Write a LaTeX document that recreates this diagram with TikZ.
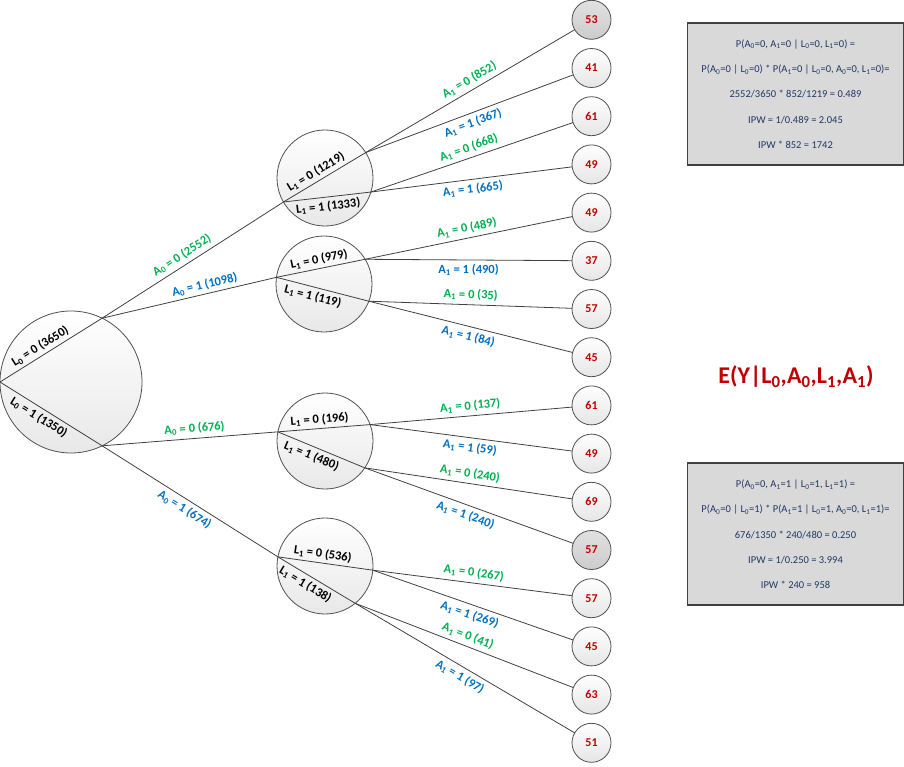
\documentclass[tikz,border=0pt]{standalone}
\usepackage{fontspec}
\setmainfont{Carlito}
\definecolor{lineC}{RGB}{64,64,64}
\definecolor{circC}{RGB}{80,80,80}
\definecolor{labgreen}{RGB}{0,176,80}
\definecolor{labblue}{RGB}{0,112,192}
\definecolor{leafred}{RGB}{192,0,0}
\definecolor{boxfill}{RGB}{217,217,217}
\definecolor{boxtext}{RGB}{32,56,100}
\newcommand{\sbs}[1]{\textsubscript{#1}}
\begin{document}
\begin{tikzpicture}[x=1pt,y=-1pt,
  conn/.style={draw=lineC, line width=0.8pt},
  bignode/.style={circle, draw=circC, line width=0.8pt, top color=white, bottom color=black!9, minimum size=#1, inner sep=0pt, outer sep=0pt},
  leaf/.style={circle, draw=circC, line width=0.8pt, top color=white, bottom color=black!10, minimum size=39pt, inner sep=0pt, outer sep=0pt, font=\bfseries\fontsize{12}{12}\selectfont, text=leafred},
  leafg/.style={leaf, top color=black!12, bottom color=black!20},
  lab/.style={font=\bfseries\fontsize{12.5}{12.5}\selectfont, sloped, inner sep=1.5pt},
  gl/.style={lab, text=labgreen, above=2.5pt},
  bl/.style={lab, text=labblue, below=2.5pt},
  kla/.style={lab, text=black, above=1.5pt},
  klb/.style={lab, text=black, below=2pt},
  infobox/.style={rectangle, draw=lineC, line width=1.5pt, fill=boxfill, minimum width=215.6pt, minimum height=142pt, align=center, text=boxtext, font=\fontsize{10.5}{25.3}\selectfont, inner sep=0pt}
]
\useasboundingbox (0,0) rectangle (904,766);

% main circles
\node[bignode=142pt] (r) at (71,382) {};
\node[bignode=96pt] (c1) at (325,178) {};
\node[bignode=96pt] (c2) at (324,284) {};
\node[bignode=96pt] (c3) at (325,441) {};
\node[bignode=96pt] (c4) at (325,566) {};

\coordinate (r0) at (r.180);
\coordinate (r1) at (r.64);
\coordinate (r2) at (r.-64);
\coordinate (c1v) at (c1.210.8);
\coordinate (c1a) at (c1.32.7);
\coordinate (c1b) at (c1.-17.3);
\coordinate (c2v) at (c2.172.7);
\coordinate (c2a) at (c2.31.6);
\coordinate (c2b) at (c2.-21.4);
\coordinate (c3v) at (c3.169.4);
\coordinate (c3a) at (c3.20.7);
\coordinate (c3b) at (c3.-34);
\coordinate (c4v) at (c4.169.4);
\coordinate (c4a) at (c4.-5);
\coordinate (c4b) at (c4.-51.3);

% leaves
\node[leafg] (l0) at (591.5,19.8) {53};
\node[leaf] (l1) at (591.5,68) {41};
\node[leaf] (l2) at (591.5,116.2) {61};
\node[leaf] (l3) at (591.5,164.4) {49};
\node[leaf] (l4) at (591.5,212.6) {49};
\node[leaf] (l5) at (591.5,260.8) {37};
\node[leaf] (l6) at (591.5,309) {57};
\node[leaf] (l7) at (591.5,357.2) {45};
\node[leaf] (l8) at (591.5,405.4) {61};
\node[leaf] (l9) at (591.5,453.6) {49};
\node[leaf] (l10) at (591.5,501.8) {69};
\node[leafg] (l11) at (591.5,550) {57};
\node[leaf] (l12) at (591.5,598.2) {57};
\node[leaf] (l13) at (591.5,646.4) {45};
\node[leaf] (l14) at (591.5,694.6) {63};
\node[leaf] (l15) at (591.5,742.8) {51};

% root chords
\draw[conn] (r0) -- node[kla, pos=0.44] {L\sbs{0} = 0 (3650)} (r1);
\draw[conn] (r0) -- node[klb, pos=0.43] {L\sbs{0} = 1 (1350)} (r2);
% A0 edges
\draw[conn] (r1) -- node[gl, pos=0.47] {A\sbs{0} = 0 (2552)} (c1v);
\draw[conn] (r1) -- node[lab, text=labblue, above=1.5pt, pos=0.6] {A\sbs{0} = 1 (1098)} (c2v);
\draw[conn] (r2) -- node[gl, pos=0.53] {A\sbs{0} = 0 (676)} (c3v);
\draw[conn] (r2) -- node[bl, pos=0.5] {A\sbs{0} = 1 (674)} (c4v);

% circle chords
\draw[conn] (c1v) -- node[kla, pos=0.45] {L\sbs{1} = 0 (1219)} (c1a);
\draw[conn] (c1v) -- node[klb, pos=0.5] {L\sbs{1} = 1 (1333)} (c1b);
\draw[conn] (c2v) -- node[kla, pos=0.5] {L\sbs{1} = 0 (979)} (c2a);
\draw[conn] (c2v) -- node[klb, pos=0.42] {L\sbs{1} = 1 (119)} (c2b);
\draw[conn] (c3v) -- node[kla, pos=0.46] {L\sbs{1} = 0 (196)} (c3a);
\draw[conn] (c3v) -- node[klb, pos=0.43] {L\sbs{1} = 1 (480)} (c3b);
\draw[conn] (c4v) -- node[kla, pos=0.46] {L\sbs{1} = 0 (536)} (c4a);
\draw[conn] (c4v) -- node[klb, pos=0.42] {L\sbs{1} = 1 (138)} (c4b);

% A1 edges
\draw[conn] (c1a) -- node[gl, pos=0.52] {A\sbs{1} = 0 (852)} (l0);
\draw[conn] (c1a) -- node[bl] {A\sbs{1} = 1 (367)} (l1);
\draw[conn] (c1b) -- node[gl] {A\sbs{1} = 0 (668)} (l2);
\draw[conn] (c1b) -- node[bl] {A\sbs{1} = 1 (665)} (l3);
\draw[conn] (c2a) -- node[gl] {A\sbs{1} = 0 (489)} (l4);
\draw[conn] (c2a) -- node[bl] {A\sbs{1} = 1 (490)} (l5);
\draw[conn] (c2b) -- node[gl] {A\sbs{1} = 0 (35)} (l6);
\draw[conn] (c2b) -- node[bl] {A\sbs{1} = 1 (84)} (l7);
\draw[conn] (c3a) -- node[gl] {A\sbs{1} = 0 (137)} (l8);
\draw[conn] (c3a) -- node[bl] {A\sbs{1} = 1 (59)} (l9);
\draw[conn] (c3b) -- node[gl] {A\sbs{1} = 0 (240)} (l10);
\draw[conn] (c3b) -- node[bl] {A\sbs{1} = 1 (240)} (l11);
\draw[conn] (c4a) -- node[gl] {A\sbs{1} = 0 (267)} (l12);
\draw[conn] (c4a) -- node[bl] {A\sbs{1} = 1 (269)} (l13);
\draw[conn] (c4b) -- node[gl] {A\sbs{1} = 0 (41)} (l14);
\draw[conn] (c4b) -- node[bl] {A\sbs{1} = 1 (97)} (l15);

% info boxes
\node[infobox] (b1) at (795.5,93.9) {P(A\sbs{0}=0, A\sbs{1}=0 | L\sbs{0}=0, L\sbs{1}=0) =\\
P(A\sbs{0}=0 | L\sbs{0}=0) * P(A\sbs{1}=0 | L\sbs{0}=0, A\sbs{0}=0, L\sbs{1}=0)=\\
2552/3650 * 852/1219 = 0.489\\
IPW = 1/0.489 = 2.045\\
IPW * 852 = 1742};
\node[infobox] (b2) at (795.5,534.2) {P(A\sbs{0}=0, A\sbs{1}=1 | L\sbs{0}=1, L\sbs{1}=1) =\\
P(A\sbs{0}=0 | L\sbs{0}=1) * P(A\sbs{1}=1 | L\sbs{0}=1, A\sbs{0}=0, L\sbs{1}=1)=\\
676/1350 * 240/480 = 0.250\\
IPW = 1/0.250 = 3.994\\
IPW * 240 = 958};

\node[font=\bfseries\fontsize{24}{24}\selectfont, text=leafred] (ey) at (796,377) {E(Y|L\sbs{0},A\sbs{0},L\sbs{1},A\sbs{1})};
\end{tikzpicture}
\end{document}
